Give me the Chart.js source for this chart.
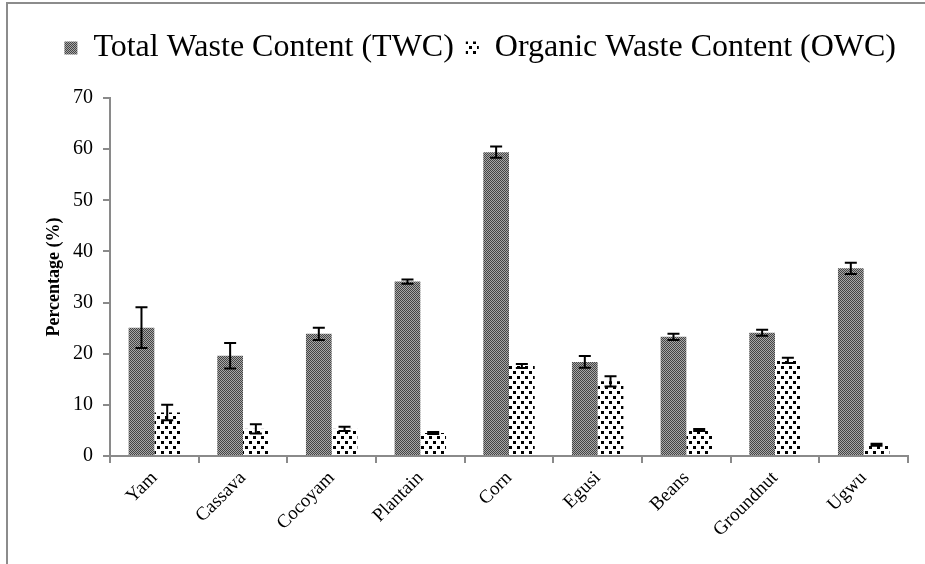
<!DOCTYPE html>
<html>
<head>
<meta charset="utf-8">
<script src="https://cdn.jsdelivr.net/npm/chart.js@4.4.0/dist/chart.umd.min.js"></script>
<style>
  html, body { margin: 0; padding: 0; background: #fff; }
  #frame {
    position: absolute; left: 6px; top: 2px; width: 925px; height: 570px;
    border-left: 2px solid #8c8c8c; border-top: 2px solid #8c8c8c;
  }
  #wrap { position: absolute; left: 0; top: 0; width: 925px; height: 564px; }
</style>
</head>
<body>
<div id="frame"></div>
<div id="wrap"><canvas id="chart" width="925" height="564"></canvas></div>
<script>
const crops = ['Yam', 'Cassava', 'Cocoyam', 'Plantain', 'Corn', 'Egusi', 'Beans', 'Groundnut', 'Ugwu'];
const twcValues = [25.1, 19.6, 23.9, 34.1, 59.4, 18.4, 23.3, 24.1, 36.7];
const twcErrors = [4.0, 2.5, 1.2, 0.4, 1.1, 1.15, 0.6, 0.6, 1.1];
const owcValues = [8.5, 5.3, 5.3, 4.5, 17.6, 14.6, 5.1, 18.7, 2.2];
const owcErrors = [1.5, 0.9, 0.4, 0.2, 0.4, 1.0, 0.2, 0.5, 0.2];
const yTicks = [0, 10, 20, 30, 40, 50, 60, 70];

const axisColor = '#8a8a8a';
const serif = '"Liberation Serif", "DejaVu Serif", serif';

// fine grey checkerboard
function makeCheckPattern() {
    const c = document.createElement('canvas');
    c.width = 2; c.height = 2;
    const g = c.getContext('2d');
    g.fillStyle = '#a8a8a8'; g.fillRect(0, 0, 2, 2);
    g.fillStyle = '#444444'; g.fillRect(0, 0, 1, 1); g.fillRect(1, 1, 1, 1);
    return g.createPattern(c, 'repeat');
}

// white with staggered black squares
function makeDotPattern() {
    const c = document.createElement('canvas');
    c.width = 8; c.height = 10;
    const g = c.getContext('2d');
    g.fillStyle = '#ffffff'; g.fillRect(0, 0, 8, 10);
    g.fillStyle = '#000000';
    g.fillRect(1, 1, 3, 3);
    g.fillRect(5, 6, 3, 3);
    return g.createPattern(c, 'repeat');
}

const errorBars = {
    id: 'errorBars',
    afterDatasetsDraw(chart) {
        const ctx = chart.ctx;
        const y = chart.scales.y;
        ctx.save();
        ctx.strokeStyle = '#000';
        ctx.lineWidth = 2;
        chart.data.datasets.forEach((ds, i) => {
            const meta = chart.getDatasetMeta(i);
            meta.data.forEach((bar, j) => {
                const v = ds.data[j], e = ds.errors[j];
                const top = y.getPixelForValue(v + e);
                const bot = y.getPixelForValue(v - e);
                const x = bar.x;
                ctx.beginPath();
                ctx.moveTo(x, top); ctx.lineTo(x, bot);
                ctx.moveTo(x - 6, top); ctx.lineTo(x + 6, top);
                ctx.moveTo(x - 6, bot); ctx.lineTo(x + 6, bot);
                ctx.stroke();
            });
        });
        ctx.restore();
    }
};

// leave more room under the legend
const legendGap = {
    id: 'legendGap',
    beforeInit(chart) {
        const fit = chart.legend.fit;
        chart.legend.fit = function () {
            fit.call(this);
            this.height += 24;
        };
    }
};

const ctx = document.getElementById('chart').getContext('2d');
new Chart(ctx, {
    type: 'bar',
    data: {
        labels: crops,
        datasets: [{
            label: 'Total Waste Content (TWC)',
            data: twcValues,
            errors: twcErrors,
            backgroundColor: makeCheckPattern(),
            borderWidth: 0,
            barPercentage: 1.0,
            categoryPercentage: 0.58
        }, {
            label: 'Organic Waste Content (OWC)',
            data: owcValues,
            errors: owcErrors,
            backgroundColor: makeDotPattern(),
            borderWidth: 0,
            barPercentage: 1.0,
            categoryPercentage: 0.58
        }]
    },
    options: {
        responsive: false,
        animation: false,
        layout: { padding: { left: 40, right: 17, top: 20, bottom: 0 } },
        plugins: {
            legend: {
                position: 'top',
                align: 'end',
                labels: {
                    color: '#000',
                    font: { family: serif, size: 32 },
                    boxWidth: 13,
                    boxHeight: 13,
                    padding: 12
                }
            },
            tooltip: { enabled: false }
        },
        scales: {
            x: {
                offset: true,
                grid: {
                    display: true, drawOnChartArea: false, drawTicks: true,
                    tickLength: 7, color: axisColor, lineWidth: 2, offset: true
                },
                border: { display: true, color: axisColor, width: 2 },
                ticks: {
                    color: '#000', minRotation: 45, maxRotation: 45, padding: 4,
                    font: { family: serif, size: 19 }
                },
                afterFit(scale) { scale.height = 108; }
            },
            y: {
                min: 0,
                max: 70,
                afterBuildTicks(scale) { scale.ticks = yTicks.map(v => ({ value: v })); },
                grid: {
                    display: true, drawOnChartArea: false, drawTicks: true,
                    tickLength: 7, color: axisColor, lineWidth: 2
                },
                border: { display: true, color: axisColor, width: 2 },
                ticks: { color: '#000', padding: 10, font: { family: serif, size: 20 } },
                title: {
                    display: true,
                    text: 'Percentage (%)',
                    color: '#000',
                    font: { family: serif, size: 18, weight: 'bold' },
                    padding: { top: 4, bottom: 0 }
                },
                afterFit(scale) { scale.width = 70; }
            }
        }
    },
    plugins: [legendGap, errorBars]
});
</script>
</body>
</html>
